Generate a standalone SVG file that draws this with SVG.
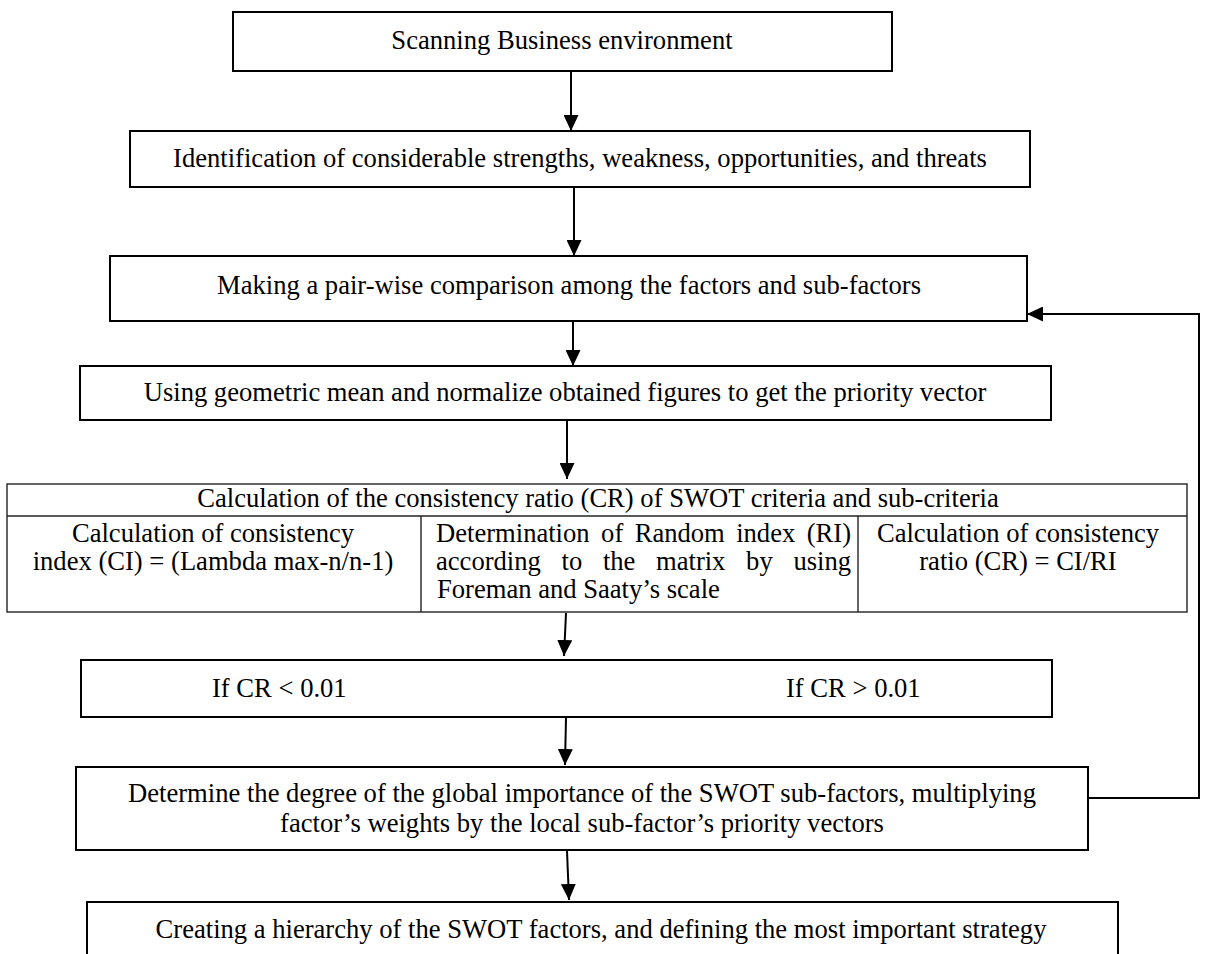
<svg xmlns="http://www.w3.org/2000/svg" width="1205" height="954" viewBox="0 0 1205 954">
<style>
.box{fill:#fff;stroke:#000;stroke-width:2}
.tbl{fill:none;stroke:#222;stroke-width:1.4}
.t{font-family:"Liberation Serif","Times New Roman",serif;font-size:26.6px;fill:#000}
.c{text-anchor:middle}
.con{fill:none;stroke:#000;stroke-width:2}
</style>
<defs>
<marker id="ah" markerUnits="userSpaceOnUse" markerWidth="16" markerHeight="15" refX="16" refY="7.5" orient="auto">
<path d="M0,0 L16,7.5 L0,15 z" fill="#000"/>
</marker>
</defs>
<rect width="1205" height="954" fill="#fff"/>

<g id="n1">
<rect class="box" x="233" y="12" width="659" height="59"/>
<text class="t c" x="562" y="49">Scanning Business environment</text>
</g>

<g id="n2">
<rect class="box" x="130" y="131" width="900" height="56"/>
<text class="t c" x="580" y="167">Identification of considerable strengths, weakness, opportunities, and threats</text>
</g>

<g id="n3">
<rect class="box" x="110" y="256" width="917" height="65"/>
<text class="t c" x="569" y="294">Making a pair-wise comparison among the factors and sub-factors</text>
</g>

<g id="n4">
<rect class="box" x="80" y="366" width="971" height="54"/>
<text class="t c" x="565" y="401">Using geometric mean and normalize obtained figures to get the priority vector</text>
</g>

<g id="n5">
<rect class="tbl" x="7" y="484" width="1180" height="128"/>
<line class="tbl" x1="7" y1="516" x2="1187" y2="516"/>
<line class="tbl" x1="421" y1="516" x2="421" y2="612"/>
<line class="tbl" x1="858" y1="516" x2="858" y2="612"/>
<text class="t c" x="598" y="507">Calculation of the consistency ratio (CR) of SWOT criteria and sub-criteria</text>
<text class="t c" x="213" y="542">Calculation of consistency</text>
<text class="t c" x="213" y="570">index (CI) = (Lambda max-n/n-1)</text>
<text class="t" y="542"><tspan x="436">Determination</tspan><tspan x="601.1">of</tspan><tspan x="634.7">Random</tspan><tspan x="736.2">index</tspan><tspan x="806.7">(RI)</tspan></text>
<text class="t" y="570"><tspan x="436">according</tspan><tspan x="561.5">to</tspan><tspan x="602.9">the</tspan><tspan x="656">matrix</tspan><tspan x="746.1">by</tspan><tspan x="793.4">using</tspan></text>
<text class="t" x="437" y="598">Foreman and Saaty’s scale</text>
<text class="t c" x="1018" y="542">Calculation of consistency</text>
<text class="t c" x="1018" y="570">ratio (CR) = CI/RI</text>
</g>

<g id="n6">
<rect class="box" x="81" y="660" width="971" height="57"/>
<text class="t" x="212" y="697">If CR &lt; 0.01</text>
<text class="t" x="786" y="697">If CR &gt; 0.01</text>
</g>

<g id="n7">
<rect class="box" x="76" y="767" width="1012" height="83"/>
<text class="t c" x="582" y="802">Determine the degree of the global importance of the SWOT sub-factors, multiplying</text>
<text class="t c" x="582" y="832">factor’s weights by the local sub-factor’s priority vectors</text>
</g>

<g id="n8">
<rect class="box" x="87" y="902" width="1031" height="70"/>
<text class="t c" x="601" y="938">Creating a hierarchy of the SWOT factors, and defining the most important strategy</text>
</g>

<g id="connectors">
<line class="con" x1="571" y1="72" x2="571" y2="131" marker-end="url(#ah)"/>
<line class="con" x1="574" y1="188" x2="574" y2="256" marker-end="url(#ah)"/>
<line class="con" x1="573" y1="322" x2="573" y2="366" marker-end="url(#ah)"/>
<line class="con" x1="567" y1="421" x2="567" y2="479" marker-end="url(#ah)"/>
<line class="con" x1="566" y1="613" x2="564" y2="656" marker-end="url(#ah)"/>
<line class="con" x1="566" y1="718" x2="565" y2="765" marker-end="url(#ah)"/>
<line class="con" x1="567" y1="851" x2="569" y2="900" marker-end="url(#ah)"/>
<polyline class="con" points="1088,798 1199,798 1199,314 1027,314" marker-end="url(#ah)"/>
</g>
</svg>
